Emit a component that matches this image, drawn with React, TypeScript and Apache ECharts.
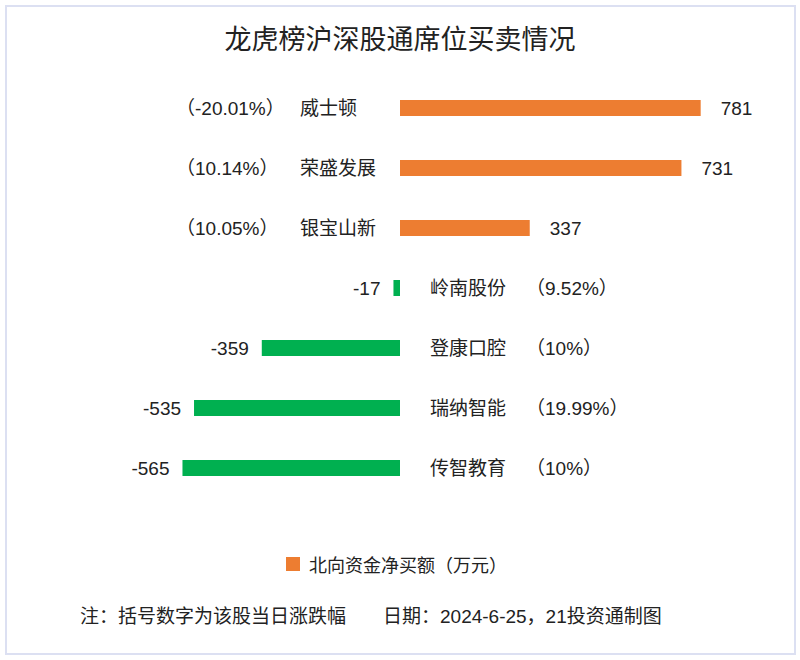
import React, { useEffect, useRef } from "react";
import * as echarts from "echarts";

const stocks = ["威士顿", "荣盛发展", "银宝山新", "岭南股份", "登康口腔", "瑞纳智能", "传智教育"];
const netBuy = [781, 731, 337, -17, -359, -535, -565];
const changePct = ["-20.01%", "10.14%", "10.05%", "9.52%", "10%", "19.99%", "10%"];
const seriesName = "北向资金净买额（万元）";
const titleText = "龙虎榜沪深股通席位买卖情况";
const noteText = "注：括号数字为该股当日涨跌幅";
const sourceText = "日期：2024-6-25，21投资通制图";

const ORANGE = "#ED7D31";
const GREEN = "#00B050";
const CJK = "Noto Sans CJK SC";
const MIX = `"Liberation Sans", "${CJK}"`;
const TEXT = "#222222";

export default function App() {
  const ref = useRef<HTMLDivElement>(null);
  useEffect(() => {
    document.body.style.margin = "0";
    const chart = echarts.init(ref.current!, undefined, { renderer: "svg" });
    chart.setOption({
      animation: false,
      backgroundColor: "#ffffff",
      textStyle: { fontFamily: CJK, color: TEXT },
      title: {
        text: titleText,
        left: "center",
        top: 19,
        textStyle: { fontFamily: CJK, fontSize: 27, fontWeight: "normal", color: TEXT },
      },
      legend: {
        data: [{ name: seriesName, itemStyle: { color: ORANGE } }],
        left: 281,
        top: 550,
        icon: "rect",
        itemWidth: 14,
        itemHeight: 14,
        textStyle: { fontFamily: CJK, fontSize: 18, color: TEXT, padding: [0, 0, 0, 4] },
      },
      grid: { left: 15, right: 15, top: 78, height: 420 },
      xAxis: {
        type: "value",
        min: -1000,
        max: 1000,
        show: false,
        splitLine: { show: false },
      },
      yAxis: {
        type: "category",
        data: stocks,
        inverse: true,
        show: false,
      },
      series: [
        {
          name: seriesName,
          type: "bar",
          barWidth: 16,
          data: netBuy.map((v) => ({
            value: v,
            itemStyle: { color: v >= 0 ? ORANGE : GREEN },
            label: {
              show: true,
              position: v >= 0 ? "right" : "left",
              distance: v >= 0 ? 20 : 13,
              fontFamily: "Liberation Sans",
              fontSize: 19,
              color: TEXT,
              formatter: String(v),
            },
          })),
        },
        {
          name: "labels",
          type: "custom",
          silent: true,
          data: netBuy.map((v, i) => [v, i]),
          renderItem: (params: any, api: any) => {
            const i = api.value(1);
            const v = netBuy[i];
            const p = api.coord([0, i]);
            const x0 = p[0];
            const y = p[1];
            const txt = (text: string, x: number) => ({
              type: "text",
              style: {
                text,
                x,
                y,
                fill: TEXT,
                font: `19px ${MIX}`,
                align: "left",
                verticalAlign: "middle",
              },
            });
            const pct = `（${changePct[i]}）`;
            const children =
              v >= 0
                ? [txt(pct, x0 - 224), txt(stocks[i], x0 - 100)]
                : [txt(stocks[i], x0 + 30), txt(pct, x0 + 126)];
            return { type: "group", children };
          },
        },
      ],
      graphic: [
        {
          type: "rect",
          shape: { x: 6, y: 6, width: 789, height: 648 },
          style: { fill: "none", stroke: "#DCE0F2", lineWidth: 2 },
          silent: true,
        },
        {
          type: "text",
          left: 80,
          top: 607,
          style: { text: noteText, font: `19px ${MIX}`, fill: TEXT },
        },
        {
          type: "text",
          left: 383,
          top: 607,
          style: { text: sourceText, font: `19px ${MIX}`, fill: TEXT },
        },
      ],
    });
    return () => chart.dispose();
  }, []);
  return <div ref={ref} style={{ width: 800, height: 660 }} />;
}
